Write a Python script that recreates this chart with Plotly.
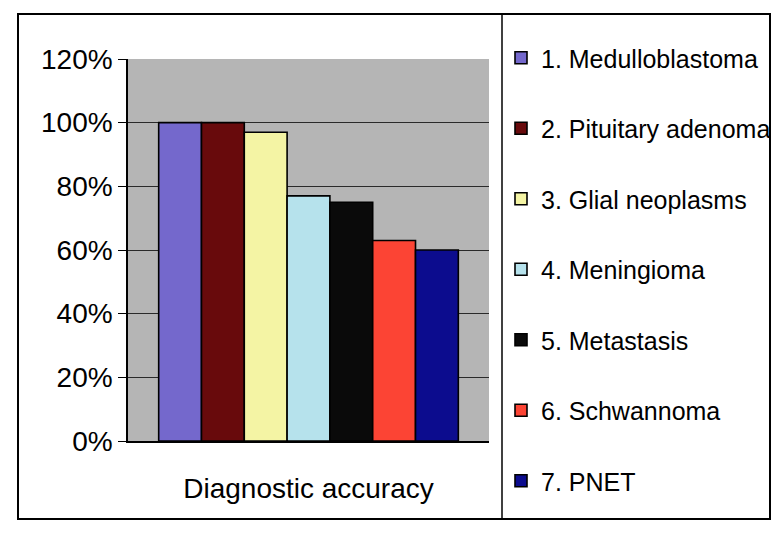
import plotly.graph_objects as go

# Diagnostic accuracy per tumour type
tumours = [
    "1. Medulloblastoma",
    "2. Pituitary adenoma",
    "3. Glial neoplasms",
    "4. Meningioma",
    "5. Metastasis",
    "6. Schwannoma",
    "7. PNET",
]
accuracy = [100, 100, 97, 77, 75, 63, 60]
category = ["Diagnostic accuracy"]
y_ticks = [0, 20, 40, 60, 80, 100, 120]
y_tick_labels = ["0%", "20%", "40%", "60%", "80%", "100%", "120%"]

colors = ["#7468cc", "#680a0c", "#f4f4a4", "#b6e2ec", "#0a0a0a", "#fc4434", "#0c0c8e"]

FONT = "Liberation Sans, Arial, sans-serif"
W, H = 776, 533
L, R, T, B = 128, 287, 59, 92
pw, ph = W - L - R, H - T - B


def px(x):
    return (x - L) / pw


def py(y):
    return (H - B - y) / ph


fig = go.Figure()
for name, val, col in zip(tumours, accuracy, colors):
    fig.add_trace(go.Bar(
        x=category, y=[val], name=name, legendgroup=name,
        marker=dict(color=col, line=dict(color="#000000", width=1.6)),
    ))

fig.update_layout(
    width=W, height=H,
    margin=dict(l=L, r=R, t=T, b=B, autoexpand=False),
    paper_bgcolor="white",
    plot_bgcolor="#b5b5b5",
    barmode="group",
    bargap=0.17,
    bargroupgap=0,
    font=dict(family=FONT, color="#000000"),
    showlegend=True,
    legend=dict(
        x=px(501), y=py(35), xanchor="left", yanchor="top",
        font=dict(size=25, family=FONT, color="#000000"),
        bgcolor="rgba(0,0,0,0)",
        tracegroupgap=35,
        traceorder="grouped",
        maxheight=520,
    ),
    xaxis=dict(
        showgrid=False, showline=True, linecolor="#000000", linewidth=1.5,
        ticks="", tickfont=dict(size=28, family=FONT),
        ticklabelstandoff=22,
    ),
    yaxis=dict(
        range=[0, 120], tickvals=y_ticks, ticktext=y_tick_labels,
        showgrid=True, gridcolor="#2a2a2a", gridwidth=1,
        showline=True, linecolor="#000000", linewidth=1.5,
        ticks="outside", ticklen=8, tickcolor="#000000",
        tickfont=dict(size=28, family=FONT),
        zeroline=False,
    ),
    shapes=[
        # outer chart frame
        dict(type="rect", xref="paper", yref="paper",
             x0=px(18), x1=px(770), y0=py(519), y1=py(14),
             line=dict(color="#000000", width=2), fillcolor="rgba(0,0,0,0)"),
        # divider between chart and legend
        dict(type="line", xref="paper", yref="paper",
             x0=px(502), x1=px(502), y0=py(519), y1=py(14),
             line=dict(color="#000000", width=1.5)),
    ],
)

fig.write_html("out.html")
